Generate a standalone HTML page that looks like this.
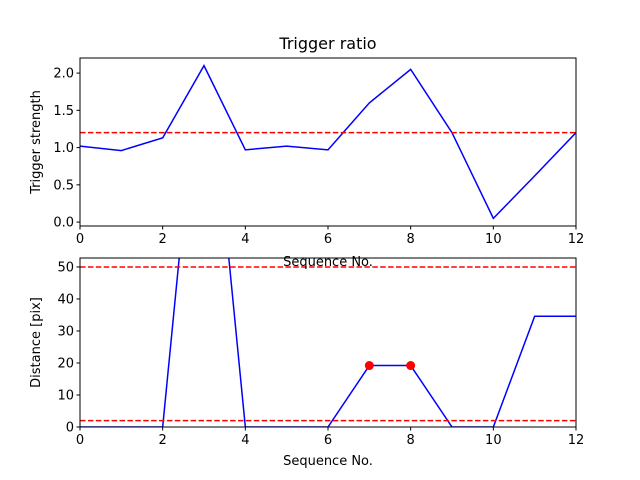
<!DOCTYPE html>
<html><head><meta charset="utf-8"><style>
body{margin:0;background:#fff}
svg{display:block;font-family:"DejaVu Sans","Liberation Sans",sans-serif}
</style></head><body>
<svg id="c" width="640" height="480"></svg>
<script>
const xs=[0,1,2,3,4,5,6,7,8,9,10,11,12];
const strength=[1.02,0.96,1.13,2.1,0.97,1.02,0.97,1.6,2.05,1.2,0.05,0.62,1.2];
const distance=[0,0,0,132,0,0,0,19.2,19.2,0,0,34.6,34.6];
const threshold=[1.2];
const distLimits=[50,2];
const markedIdx=[7,8];
const xTicks=[0,2,4,6,8,10,12];
const yTicksTop=[0.0,0.5,1.0,1.5,2.0];
const yTicksBot=[0,10,20,30,40,50];
const NS="http://www.w3.org/2000/svg";
const svg=document.getElementById('c');
function mk(t,a,p){const e=document.createElementNS(NS,t);for(const k in a)e.setAttribute(k,a[k]);(p||svg).appendChild(e);return e;}
const L=80,R=576;
const sx=v=>L+(v-0)/(12-0)*(R-L);
function panel(top,bot,y0,y1,name){
  const sy=v=>bot-(v-y0)/(y1-y0)*(bot-top);
  const g=mk('g',{});
  
  
  return {sy,g,top,bot};
}
function axes(p,yt,fmt,ylabel,xlab,lname){
  const g=p.g;
  const f=mk('rect',{x:L,y:p.top,width:R-L,height:p.bot-p.top,fill:'none',stroke:'#000','stroke-width':1},g);
  
  
  xTicks.forEach(v=>{mk('line',{x1:sx(v),x2:sx(v),y1:p.bot,y2:p.bot+3.5,stroke:'#000'},g);
    const t=mk('text',{x:sx(v),y:p.bot+17,'font-size':13,'text-anchor':'middle'},g);t.textContent=v;
    
    });
  yt.forEach(v=>{mk('line',{x1:L-3.5,x2:L,y1:p.sy(v),y2:p.sy(v),stroke:'#000'},g);
    const t=mk('text',{x:L-6,y:p.sy(v)+4.5,'font-size':13,'text-anchor':'end'},g);t.textContent=fmt(v);
    
    });
  const yl=mk('text',{x:0,y:0,'font-size':13,'text-anchor':'middle',transform:`translate(40,${(p.top+p.bot)/2}) rotate(-90)`},g);
  yl.textContent=ylabel;
  
  
  if(xlab){const xl=mk('text',{x:(L+R)/2,y:p.bot+38,'font-size':13,'text-anchor':'middle'},g);xl.textContent='Sequence No.';
    
    }
}
const pt=panel(58,226,-0.0525,2.2025,'top-panel');
const ttl=mk('text',{x:(L+R)/2,y:49,'font-size':16,'text-anchor':'middle'},pt.g);ttl.textContent='Trigger ratio';


const cp1=mk('clipPath',{id:'cp1'});mk('rect',{x:L,y:58,width:R-L,height:168},cp1);
const l1=mk('polyline',{points:xs.map((x,i)=>sx(x)+','+pt.sy(strength[i])).join(' '),fill:'none',stroke:'#0000ff','stroke-width':1.5,'clip-path':'url(#cp1)'},pt.g);


threshold.forEach(v=>{const d=mk('line',{x1:L,x2:R,y1:pt.sy(v),y2:pt.sy(v),stroke:'#ff0000','stroke-width':1.5,'stroke-dasharray':'5.5,2.4'},pt.g);
  
  });
axes(pt,yTicksTop,v=>v.toFixed(1),'Trigger strength',false,'top');
const pb=panel(258,427,0,52.8,'bottom-panel');
mk('rect',{x:L,y:258,width:R-L,height:169,fill:'#fff'},pb.g);
const cp2=mk('clipPath',{id:'cp2'});mk('rect',{x:L,y:258,width:R-L,height:169},cp2);
const l2=mk('polyline',{points:xs.map((x,i)=>sx(x)+','+pb.sy(distance[i])).join(' '),fill:'none',stroke:'#0000ff','stroke-width':1.5,'clip-path':'url(#cp2)'},pb.g);


distLimits.forEach(v=>{const d=mk('line',{x1:L,x2:R,y1:pb.sy(v),y2:pb.sy(v),stroke:'#ff0000','stroke-width':1.5,'stroke-dasharray':'5.5,2.4'},pb.g);
  
  });
markedIdx.forEach(i=>{const c=mk('circle',{cx:sx(xs[i]),cy:pb.sy(distance[i]),r:4.5,fill:'#ff0000'},pb.g);
  
  });
axes(pb,yTicksBot,v=>String(v),'Distance [pix]',true,'bottom');
const hx=mk('text',{x:(L+R)/2,y:266,'font-size':13,'text-anchor':'middle'});hx.textContent='Sequence No.';


</script>
</body></html>
